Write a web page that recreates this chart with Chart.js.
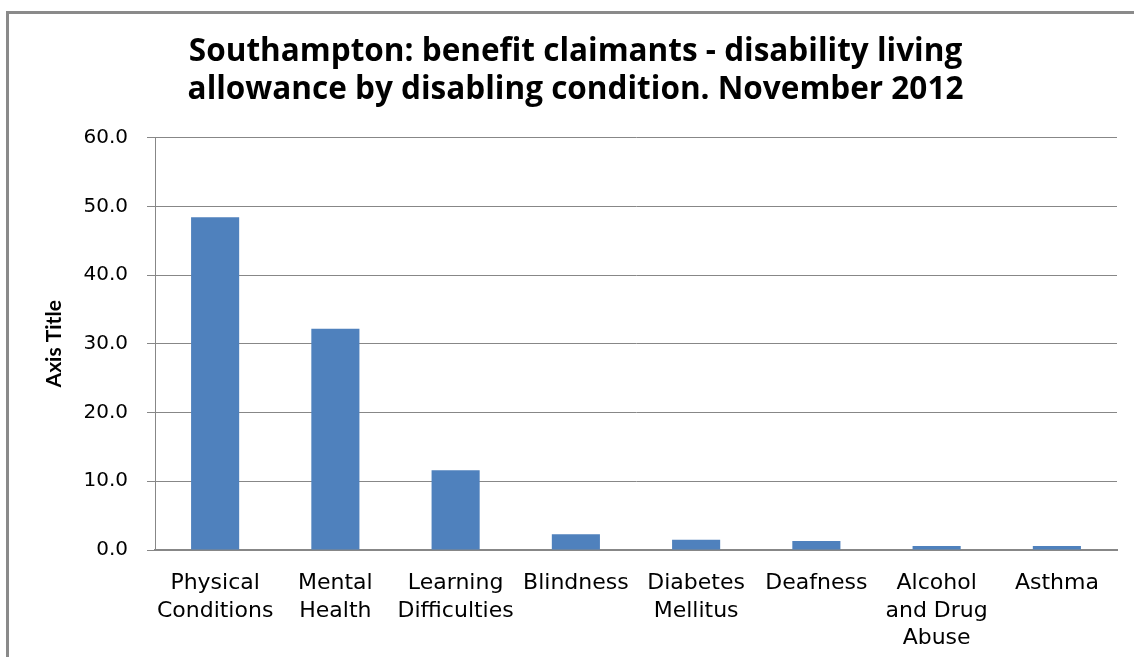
<!DOCTYPE html>
<html>
<head>
<meta charset="utf-8">
<script src="https://cdn.jsdelivr.net/npm/chart.js@4"></script>
<style>
  html, body { margin: 0; padding: 0; background: #fff; overflow: hidden; }
  #frame { position: absolute; left: 6px; top: 11px; width: 1300px; height: 800px; border: 3px solid #8a8a8a; box-sizing: border-box; }
  #wrap { position: absolute; left: 0; top: 0; width: 1134px; height: 657px; }
</style>
</head>
<body>
<div id="frame"></div>
<div id="wrap"><canvas id="dlaChart"></canvas></div>
<script>
// Southampton DLA claimants by disabling condition, Nov 2012 (% of claimants)
const categories = [
  ['Physical', 'Conditions'],
  ['Mental', 'Health'],
  ['Learning', 'Difficulties'],
  'Blindness',
  ['Diabetes', 'Mellitus'],
  'Deafness',
  ['Alcohol', 'and Drug', 'Abuse'],
  'Asthma'
];
const shares = [48.4, 32.2, 11.6, 2.3, 1.5, 1.3, 0.6, 0.6];
const yTicks = [0, 10, 20, 30, 40, 50, 60];

const gridGrey = '#878787';

const ctx = document.getElementById('dlaChart').getContext('2d');

const dlaChart = new Chart(ctx, {
  type: 'bar',
  data: {
    labels: categories,
    datasets: [{
      label: 'Share of claimants',
      data: shares,
      backgroundColor: '#4f81bd',
      borderWidth: 0,
      barPercentage: 0.4,
      categoryPercentage: 1.0
    }]
  },
  options: {
    responsive: true,
    maintainAspectRatio: false,
    animation: false,
    layout: {
      padding: { left: 34, right: 17, top: 33, bottom: 0 }
    },
    plugins: {
      legend: { display: false },
      tooltip: { enabled: false },
      title: {
        display: true,
        text: ['Southampton: benefit claimants - disability living', 'allowance by disabling condition. November 2012'],
        color: '#000',
        font: { family: 'Open Sans', size: 31.5, weight: 'bold', lineHeight: 1.2 },
        padding: { top: 0, bottom: 29 }
      }
    },
    scales: {
      x: {
        grid: { display: false, drawTicks: false },
        border: { color: gridGrey, width: 2 },
        ticks: {
          color: '#000',
          font: { family: 'DejaVu Sans', size: 22, lineHeight: 1.24 },
          padding: 20,
          maxRotation: 0,
          autoSkip: false
        },
        afterFit: (scale) => { scale.height = 107; }
      },
      y: {
        min: 0,
        max: 60,
        afterBuildTicks: (axis) => { axis.ticks = yTicks.map(v => ({ value: v })); },
        grid: { color: gridGrey, lineWidth: 1, tickLength: 8 },
        border: { color: gridGrey, width: 1 },
        ticks: {
          color: '#000',
          font: { family: 'DejaVu Sans', size: 20 },
          padding: 19,
          callback: (v) => Number(v).toFixed(1)
        },
        title: {
          display: true,
          text: 'Axis Title',
          color: '#000',
          font: { family: 'Lato', size: 21, weight: 'bold' },
          padding: { top: 8, bottom: 0 }
        },
        afterFit: (scale) => { scale.width = 121; }
      }
    }
  }
});
</script>
</body>
</html>
